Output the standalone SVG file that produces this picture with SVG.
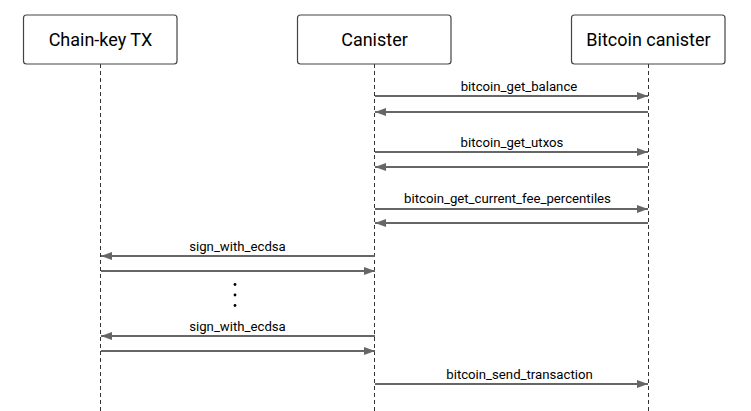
<svg xmlns="http://www.w3.org/2000/svg" width="751" height="411" viewBox="0 0 751 411">
<style>
.box{fill:#fff;stroke:#444;stroke-width:1.2}
.title{font-family:Roboto,"Liberation Sans",sans-serif;font-size:18px;fill:#000;text-anchor:middle}
.life{stroke:#333;stroke-width:1;stroke-dasharray:4,3;fill:none}
.msg{stroke:#666;stroke-width:2;fill:none}
.lbl{font-family:Roboto,"Liberation Sans",sans-serif;font-size:13.2px;fill:#000;text-anchor:middle}
</style>
<defs>
<marker id="ah" viewBox="0 0 11 8" refX="11" refY="4" markerWidth="11" markerHeight="8" markerUnits="userSpaceOnUse" orient="auto">
<path d="M0,0 L11,4 L0,8 z" fill="#666"/>
</marker>
</defs>
<g id="lifelines">
<line class="life" x1="100.5" y1="64" x2="100.5" y2="411"/>
<line class="life" x1="374.5" y1="64" x2="374.5" y2="411"/>
<line class="life" x1="648.5" y1="64" x2="648.5" y2="411"/>
</g>
<g id="chainkey">
<rect class="box" x="23.5" y="15" width="153.5" height="49" rx="3"/>
<text class="title" x="100.5" y="46">Chain-key TX</text>
</g>
<g id="canister">
<rect class="box" x="297.5" y="15" width="153.5" height="49" rx="3"/>
<text class="title" x="374.5" y="46">Canister</text>
</g>
<g id="bitcoin">
<rect class="box" x="571.5" y="15" width="153.5" height="49" rx="3"/>
<text class="title" x="648.5" y="46">Bitcoin canister</text>
</g>
<g id="connectors">
<line class="msg" x1="375" y1="96" x2="648" y2="96" marker-end="url(#ah)"/>
<text class="lbl" x="519" y="91">bitcoin_get_balance</text>
<line class="msg" x1="648" y1="112" x2="375" y2="112" marker-end="url(#ah)"/>
<line class="msg" x1="375" y1="152" x2="648" y2="152" marker-end="url(#ah)"/>
<text class="lbl" x="512" y="147">bitcoin_get_utxos</text>
<line class="msg" x1="648" y1="167" x2="375" y2="167" marker-end="url(#ah)"/>
<line class="msg" x1="375" y1="209" x2="648" y2="209" marker-end="url(#ah)"/>
<text class="lbl" x="507.5" y="203">bitcoin_get_current_fee_percentiles</text>
<line class="msg" x1="648" y1="223" x2="375" y2="223" marker-end="url(#ah)"/>
<line class="msg" x1="375" y1="256" x2="101" y2="256" marker-end="url(#ah)"/>
<text class="lbl" x="237.5" y="251">sign_with_ecdsa</text>
<line class="msg" x1="101" y1="271" x2="375" y2="271" marker-end="url(#ah)"/>
<line class="msg" x1="375" y1="336" x2="101" y2="336" marker-end="url(#ah)"/>
<text class="lbl" x="237.5" y="331">sign_with_ecdsa</text>
<line class="msg" x1="101" y1="351" x2="375" y2="351" marker-end="url(#ah)"/>
<line class="msg" x1="375" y1="384" x2="648" y2="384" marker-end="url(#ah)"/>
<text class="lbl" x="519.5" y="379">bitcoin_send_transaction</text>
</g>
<g id="ellipsis" fill="#000">
<circle cx="235" cy="284.5" r="1.4"/>
<circle cx="235" cy="295" r="1.4"/>
<circle cx="235" cy="305.5" r="1.4"/>
</g>
</svg>
